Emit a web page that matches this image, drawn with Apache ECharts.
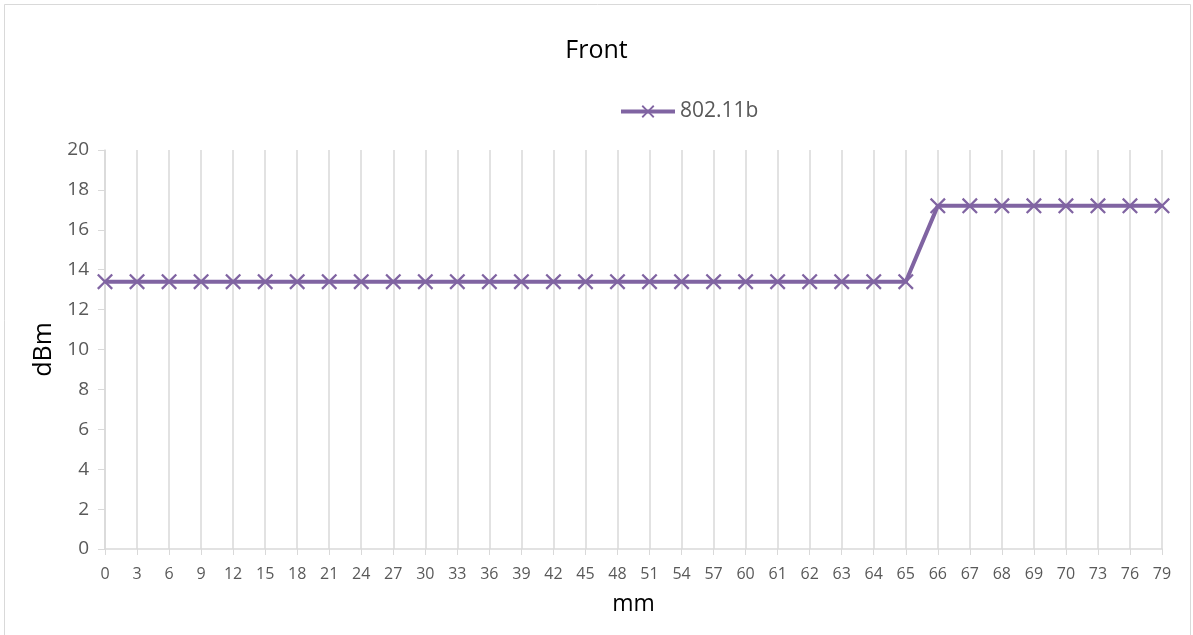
<!DOCTYPE html>
<html><head><meta charset="utf-8">
<script src="https://cdn.jsdelivr.net/npm/echarts@6/dist/echarts.min.js"></script>
<style>html,body{margin:0;padding:0;background:#fff}#c{width:1193px;height:635px}</style>
</head><body><div id="c"></div>
<script>
const categories = ['0','3','6','9','12','15','18','21','24','27','30','33','36','39','42','45','48','51','54','57','60','61','62','63','64','65','66','67','68','69','70','73','76','79'];
const values = [13.4,13.4,13.4,13.4,13.4,13.4,13.4,13.4,13.4,13.4,13.4,13.4,13.4,13.4,13.4,13.4,13.4,13.4,13.4,13.4,13.4,13.4,13.4,13.4,13.4,13.4,17.2,17.2,17.2,17.2,17.2,17.2,17.2,17.2];
const seriesName = '802.11b';
const yTicks = {min:0, max:20, interval:2};
const crossPath = 'path://M0,1L1,0L5,4L9,0L10,1L6,5L10,9L9,10L5,6L1,10L0,9L4,5Z';
const chart = echarts.init(document.getElementById('c'));
chart.setOption({
  animation:false,
  backgroundColor:'#fff',
  graphic:[{type:'rect',shape:{x:4.5,y:4.5,width:1186,height:640},style:{fill:'none',stroke:'#d9d9d9',lineWidth:1}}],
  title:{text:'Front',left:'center',top:33,textStyle:{fontFamily:'Open Sans',fontSize:25,fontWeight:'normal',color:'#000'}},
  legend:{top:96,left:614,itemWidth:54,itemHeight:16,itemGap:4,
    lineStyle:{width:4,color:'#8064a2'},
    textStyle:{fontFamily:'Open Sans',fontSize:21,color:'#595959'},data:[seriesName]},
  grid:{left:105,right:31,top:150,bottom:86,containLabel:false},
  xAxis:{type:'category',data:categories,boundaryGap:false,name:'mm',nameLocation:'middle',nameGap:44,
    nameTextStyle:{fontFamily:'Open Sans',fontSize:23,color:'#000'},
    axisLine:{lineStyle:{color:'#d9d9d9',width:1.5}},
    axisTick:{show:true,length:6,interval:0,lineStyle:{color:'#d9d9d9'}},
    axisLabel:{interval:0,margin:17,fontFamily:'Open Sans',fontSize:16,color:'#595959'},
    splitLine:{show:true,interval:0,lineStyle:{color:'#d9d9d9',width:1.5}}},
  yAxis:{type:'value',min:yTicks.min,max:yTicks.max,interval:yTicks.interval,name:'dBm',nameLocation:'middle',nameGap:46,
    nameTextStyle:{fontFamily:'Open Sans',fontSize:25,color:'#000'},
    axisLine:{show:true,lineStyle:{color:'#d9d9d9',width:1.5}},
    axisTick:{show:true,length:7,inside:false,lineStyle:{color:'#d9d9d9'}},
    axisLabel:{margin:16,fontFamily:'Open Sans',fontSize:19,color:'#595959'},
    splitLine:{show:false}},
  series:[{name:seriesName,type:'line',data:values,symbol:crossPath,symbolSize:16,
    lineStyle:{color:'#8064a2',width:4},itemStyle:{color:'#8064a2'}}]
});
</script></body></html>
